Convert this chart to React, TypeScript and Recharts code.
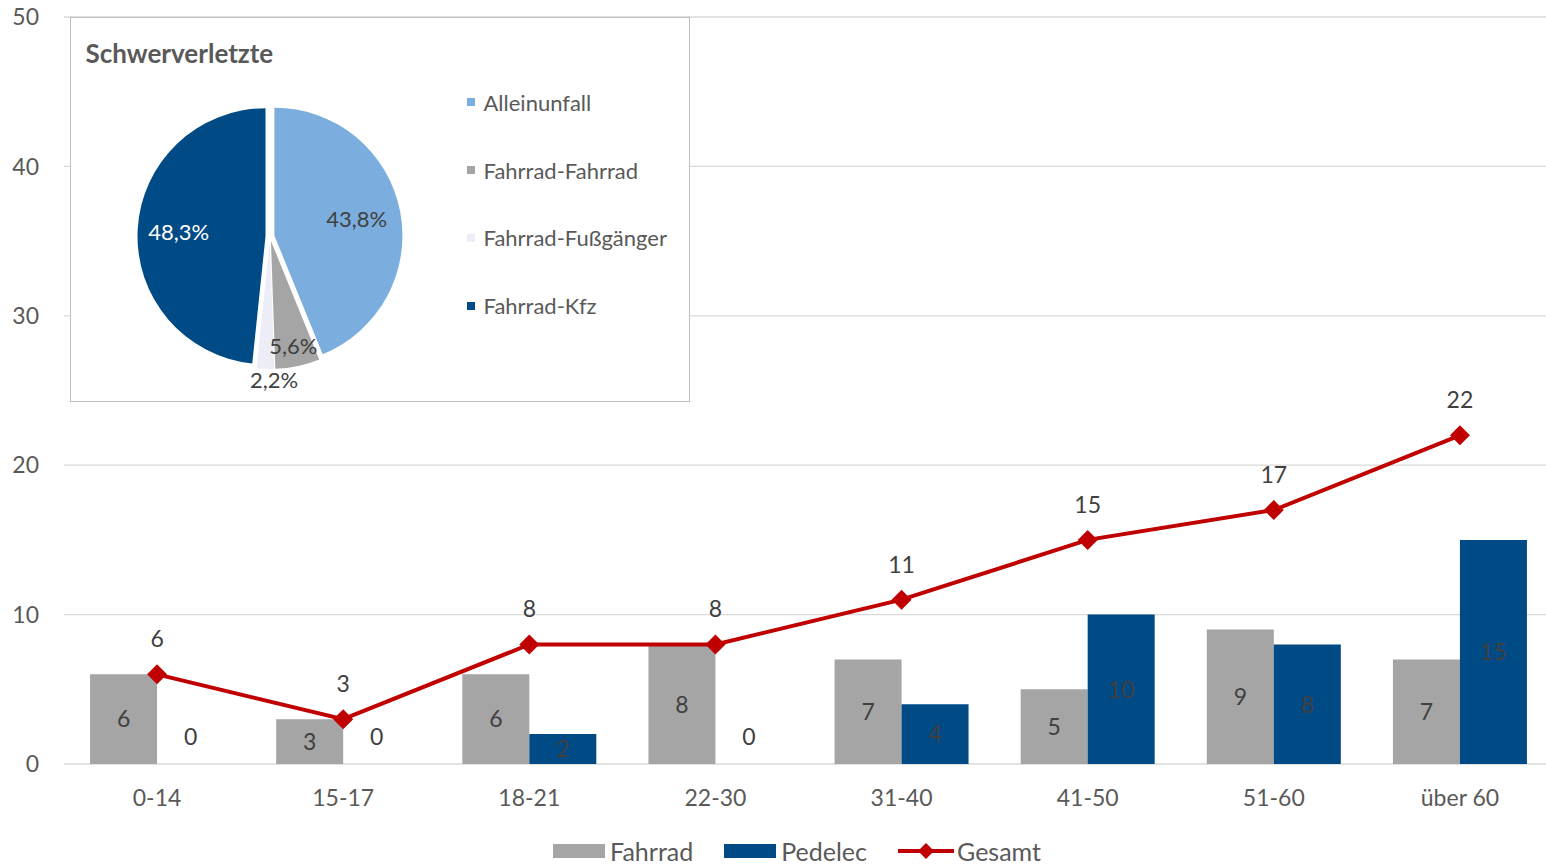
import React from 'react';
import {
  ComposedChart,
  Bar,
  Line,
  XAxis,
  YAxis,
  CartesianGrid,
  Legend,
  LabelList,
  PieChart,
  Pie,
  Cell,
  Sector,
} from 'recharts';

// ---------- data ----------
const categories = ['0-14', '15-17', '18-21', '22-30', '31-40', '41-50', '51-60', 'über 60'];
const fahrrad = [6, 3, 6, 8, 7, 5, 9, 7];
const pedelec = [0, 0, 2, 0, 4, 10, 8, 15];
const gesamt = [6, 3, 8, 8, 11, 15, 17, 22];
const yTicks = [0, 10, 20, 30, 40, 50];
const seriesOrder = ['Fahrrad', 'Pedelec', 'Gesamt'];

const pieTitle = 'Schwerverletzte';
const pieNames = ['Alleinunfall', 'Fahrrad-Fahrrad', 'Fahrrad-Fußgänger', 'Fahrrad-Kfz'];
const pieValues = [43.8, 5.6, 2.2, 48.3];

// ---------- styles ----------
const FONT = 'Lato, "Open Sans", sans-serif';
const AXIS_COLOR = '#595959';
const LABEL_COLOR = '#404040';
const C_FAHRRAD = '#A5A5A5';
const C_PEDELEC = '#004A86';
const C_GESAMT = '#C00000';
const pieColors = ['#7BAEDE', '#A5A5A5', '#EDEDF7', '#004A86'];
const pieLabelColors = ['#404040', '#404040', '#404040', '#FFFFFF'];
const pieLabelRadius = [0.69, 0.875, 1.12, 0.715];
const pieLabelDx = [0, 0, 9, 0];
const EXPLODE = 4.5;

const data = categories.map((c, i) => ({
  cat: c,
  fahrrad: fahrrad[i],
  pedelec: pedelec[i],
  gesamt: gesamt[i],
}));

const pieData = pieNames.map((n, i) => ({ name: n, value: pieValues[i] }));

const RAD = Math.PI / 180;

const BarLabel = (props: any) => {
  const vb = props.viewBox || {};
  const x = props.x ?? vb.x;
  const y = props.y ?? vb.y;
  const width = props.width ?? vb.width;
  const height = props.height ?? vb.height;
  const value = props.value;
  if (x == null || y == null) return null;
  const h = Math.abs(height || 0);
  const cy = h > 0.5 ? Math.min(y, y + height) + h / 2 : Math.max(y, y + (height || 0)) - 27;
  return (
    <text
      x={x + width / 2}
      y={cy}
      dy="0.36em"
      textAnchor="middle"
      fill={LABEL_COLOR}
      fontSize={23}
    >
      {value}
    </text>
  );
};

const Diamond = (props: any) => {
  const { cx, cy, index } = props;
  if (cx == null || cy == null) return null;
  const s = 10;
  return (
    <polygon
      key={'d' + index}
      points={`${cx},${cy - s} ${cx + s},${cy} ${cx},${cy + s} ${cx - s},${cy}`}
      fill={C_GESAMT}
    />
  );
};

const MainLegend = (props: any) => {
  const payload = (props.payload || [])
    .filter((p: any) => p.type !== 'none')
    .slice()
    .sort((a: any, b: any) => seriesOrder.indexOf(a.value) - seriesOrder.indexOf(b.value));
  return (
    <div
      style={{
        display: 'flex',
        justifyContent: 'center',
        alignItems: 'center',
        height: 30,
        paddingLeft: 41,
        gap: 31,
        fontFamily: FONT,
      }}
    >
      {payload.map((p: any) => {
        const isLine = p.dataKey === 'gesamt';
        return (
          <div key={p.value} style={{ display: 'flex', alignItems: 'center' }}>
            {isLine ? (
              <svg width={56} height={20} style={{ display: 'block' }}>
                <line x1={0} y1={10} x2={56} y2={10} stroke={p.color} strokeWidth={4} />
                <polygon points="28,2 36,10 28,18 20,10" fill={p.color} />
              </svg>
            ) : (
              <div style={{ width: 52, height: 14, background: p.color }} />
            )}
            <span
              style={{
                marginLeft: isLine ? 3 : 5,
                color: AXIS_COLOR,
                fontSize: 25,
                lineHeight: '30px',
              }}
            >
              {p.value}
            </span>
          </div>
        );
      })}
    </div>
  );
};

const renderSlice = (props: any) => {
  const { cx, cy, midAngle, innerRadius, outerRadius, startAngle, endAngle, index } = props;
  const dx = EXPLODE * Math.cos(-midAngle * RAD);
  const dy = EXPLODE * Math.sin(-midAngle * RAD);
  return (
    <Sector
      key={'s' + index}
      cx={cx + dx}
      cy={cy + dy}
      innerRadius={innerRadius}
      outerRadius={outerRadius}
      startAngle={startAngle}
      endAngle={endAngle}
      fill={pieColors[index]}
      stroke="none"
    />
  );
};

const renderPct = (props: any) => {
  const { cx, cy, midAngle, outerRadius, index, value } = props;
  const r = outerRadius * pieLabelRadius[index];
  const x = cx + r * Math.cos(-midAngle * RAD) + pieLabelDx[index];
  const y = cy + r * Math.sin(-midAngle * RAD);
  return (
    <text
      key={'t' + index}
      x={x}
      y={y}
      dy="0.36em"
      textAnchor="middle"
      fill={pieLabelColors[index]}
      fontSize={22}
      fontFamily={FONT}
    >
      {Number(value).toFixed(1).replace('.', ',') + '%'}
    </text>
  );
};

const PieLegend = (props: any) => {
  const seen = new Set<string>();
  const payload = (props.payload || []).filter((p: any) => {
    if (p.type === 'none' || seen.has(p.value)) return false;
    seen.add(p.value);
    return true;
  });
  return (
    <div style={{ fontFamily: FONT }}>
      {payload.map((p: any) => (
        <div key={p.value} style={{ height: 67.7, display: 'flex', alignItems: 'center' }}>
          <div style={{ width: 8, height: 8, background: pieColors[pieNames.indexOf(p.value)] }} />
          <span style={{ marginLeft: 9, color: AXIS_COLOR, fontSize: 22 }}>{p.value}</span>
        </div>
      ))}
    </div>
  );
};

export default function App() {
  return (
    <div
      style={{
        position: 'absolute',
        left: 0,
        top: 0,
        width: 1546,
        height: 866,
        overflow: 'hidden',
        background: '#fff',
        fontFamily: FONT,
      }}
    >
      <ComposedChart
        width={1553}
        height={880}
        data={data}
        margin={{ top: 17, right: 0, left: 0, bottom: 14 }}
        barCategoryGap="14%"
        barGap={0}
      >
        <CartesianGrid vertical={false} stroke="#D9D9D9" strokeWidth={1.3} />
        <XAxis
          dataKey="cat"
          axisLine={false}
          tickLine={false}
          tickSize={0}
          tickMargin={26}
          height={72}
          interval={0}
          tick={{ fill: AXIS_COLOR, fontSize: 23 }}
        />
        <YAxis
          domain={[0, 50]}
          ticks={yTicks}
          axisLine={false}
          tickLine={false}
          tickSize={0}
          tickMargin={25}
          width={64}
          tick={{ fill: AXIS_COLOR, fontSize: 23 }}
        />
        <Legend verticalAlign="bottom" align="center" content={MainLegend} />
        <Bar dataKey="fahrrad" name="Fahrrad" fill={C_FAHRRAD} isAnimationActive={false}>
          <LabelList dataKey="fahrrad" content={BarLabel} />
        </Bar>
        <Bar
          dataKey="pedelec"
          name="Pedelec"
          fill={C_PEDELEC}
          minPointSize={(v: number) => (v === 0 ? 0.01 : 0)}
          isAnimationActive={false}
        >
          <LabelList dataKey="pedelec" content={BarLabel} />
        </Bar>
        <Line
          dataKey="gesamt"
          name="Gesamt"
          stroke={C_GESAMT}
          strokeWidth={4}
          dot={Diamond}
          activeDot={false}
          isAnimationActive={false}
        >
          <LabelList dataKey="gesamt" position="top" offset={27} fill={LABEL_COLOR} fontSize={23} />
        </Line>
      </ComposedChart>

      <div
        style={{
          position: 'absolute',
          left: 70,
          top: 17,
          width: 620,
          height: 385,
          background: '#fff',
          border: '1.5px solid #BFBFBF',
          boxSizing: 'border-box',
        }}
      >
        <div
          style={{
            position: 'absolute',
            left: 14.5,
            top: 19.5,
            fontSize: 26,
            lineHeight: 1.2,
            fontWeight: 700,
            color: AXIS_COLOR,
            fontFamily: FONT,
            whiteSpace: 'nowrap',
            zIndex: 2,
          }}
        >
          {pieTitle}
        </div>
        <PieChart width={617} height={382} margin={{ top: 0, right: 0, bottom: 0, left: 0 }}>
          <Pie
            data={pieData}
            dataKey="value"
            nameKey="name"
            cx={199}
            cy={218.5}
            outerRadius={128}
            startAngle={90}
            endAngle={-270}
            stroke="none"
            label={renderSlice}
            labelLine={false}
            isAnimationActive={false}
          >
            {pieData.map((d, i) => (
              <Cell key={d.name} fill={pieColors[i]} fillOpacity={0} />
            ))}
          </Pie>
          <Pie
            data={pieData}
            dataKey="value"
            nameKey="name"
            cx={199}
            cy={218.5}
            outerRadius={128}
            startAngle={90}
            endAngle={-270}
            stroke="none"
            legendType="none"
            label={renderPct}
            labelLine={false}
            isAnimationActive={false}
          >
            {pieData.map((d, i) => (
              <Cell key={d.name} fill={pieColors[i]} fillOpacity={0} />
            ))}
          </Pie>
          <Legend
            layout="vertical"
            verticalAlign="top"
            align="right"
            content={PieLegend}
            wrapperStyle={{ left: 395.5, top: 50.6, width: 220 }}
          />
        </PieChart>
      </div>
    </div>
  );
}
